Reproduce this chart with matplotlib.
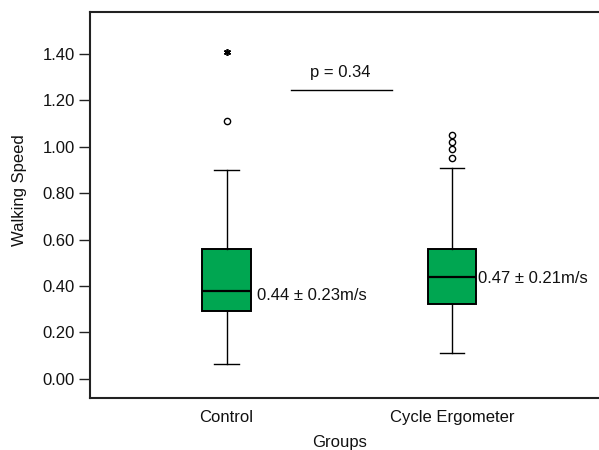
import matplotlib
matplotlib.use("Agg")
import matplotlib.pyplot as plt

plt.rcParams['font.family'] = ['Liberation Sans', 'DejaVu Sans']

# Data (box statistics)
groups = ["Control", "Cycle Ergometer"]
q1 = [0.29, 0.32]
medians = [0.38, 0.44]
q3 = [0.56, 0.56]
whisker_low = [0.063, 0.11]
whisker_high = [0.90, 0.91]
outliers = [[1.11], [0.95, 0.99, 1.02, 1.05]]
extremes = [[1.41], []]
summary_labels = ["0.44 ± 0.23m/s", "0.47 ± 0.21m/s"]
summary_y = [0.36, 0.432]
p_text = "p = 0.34"
p_line_y = 1.245
yticks = [0.0, 0.2, 0.4, 0.6, 0.8, 1.0, 1.2, 1.4]

green = '#00A651'
dark = '#222222'

fig = plt.figure(figsize=(5.99, 4.5), dpi=100)
ax = fig.add_axes([90/599, 52.5/450, 1 - 90/599 + 0.01, 385.5/450])

positions = [1, 2]
stats = []
for i, g in enumerate(groups):
    stats.append(dict(label=g, med=medians[i], q1=q1[i], q3=q3[i],
                      whislo=whisker_low[i], whishi=whisker_high[i],
                      fliers=outliers[i]))

ax.bxp(stats, positions=positions, widths=0.215, capwidths=0.108,
       patch_artist=True, showfliers=True,
       boxprops=dict(facecolor=green, edgecolor='black', linewidth=1.4),
       medianprops=dict(color='black', linewidth=1.6),
       whiskerprops=dict(color='black', linewidth=1.0),
       capprops=dict(color='black', linewidth=1.0),
       flierprops=dict(marker='o', markerfacecolor='white', markeredgecolor='black',
                       markersize=4.5, markeredgewidth=1.0, linestyle='none'))

for pos, ext in zip(positions, extremes):
    if ext:
        ax.plot([pos] * len(ext), ext, linestyle='none', marker=(6, 2, 0),
                color='black', markersize=5, markeredgewidth=1.2)

offsets = [0.134, 0.112]
for pos, lab, yv, off in zip(positions, summary_labels, summary_y, offsets):
    ax.text(pos + off, yv, lab, fontsize=12, va='center', ha='left', color='#111111')

ax.plot([1.287, 1.731], [p_line_y, p_line_y], color='black', linewidth=1.0)
ax.text(1.502, 1.321, p_text, fontsize=12, ha='center', va='center', color='#111111')

ax.set_xlim(0.3946, 2.677)
ax.set_ylim(-0.081, 1.581)
ax.set_yticks(yticks)
ax.set_yticklabels([f"{v:.2f}" for v in yticks])
ax.set_xticks(positions)
ax.set_xticklabels(groups)

ax.tick_params(axis='y', direction='out', length=8, width=1.0, color=dark,
               labelsize=12, pad=3, labelcolor='#111111')
ax.tick_params(axis='x', length=0, labelsize=12, pad=9, labelcolor='#111111')

for side in ['left', 'top', 'bottom']:
    ax.spines[side].set_color(dark)
    ax.spines[side].set_linewidth(1.5)
ax.spines['right'].set_visible(False)

ax.set_ylabel("Walking Speed", fontsize=12, color='#111111')
ax.set_xlabel("Groups", fontsize=12, color='#111111')
ax.yaxis.set_label_coords(-0.122, 0.538)
ax.xaxis.set_label_coords(0.4847, -0.097)

fig.savefig("out.png", dpi=100)
